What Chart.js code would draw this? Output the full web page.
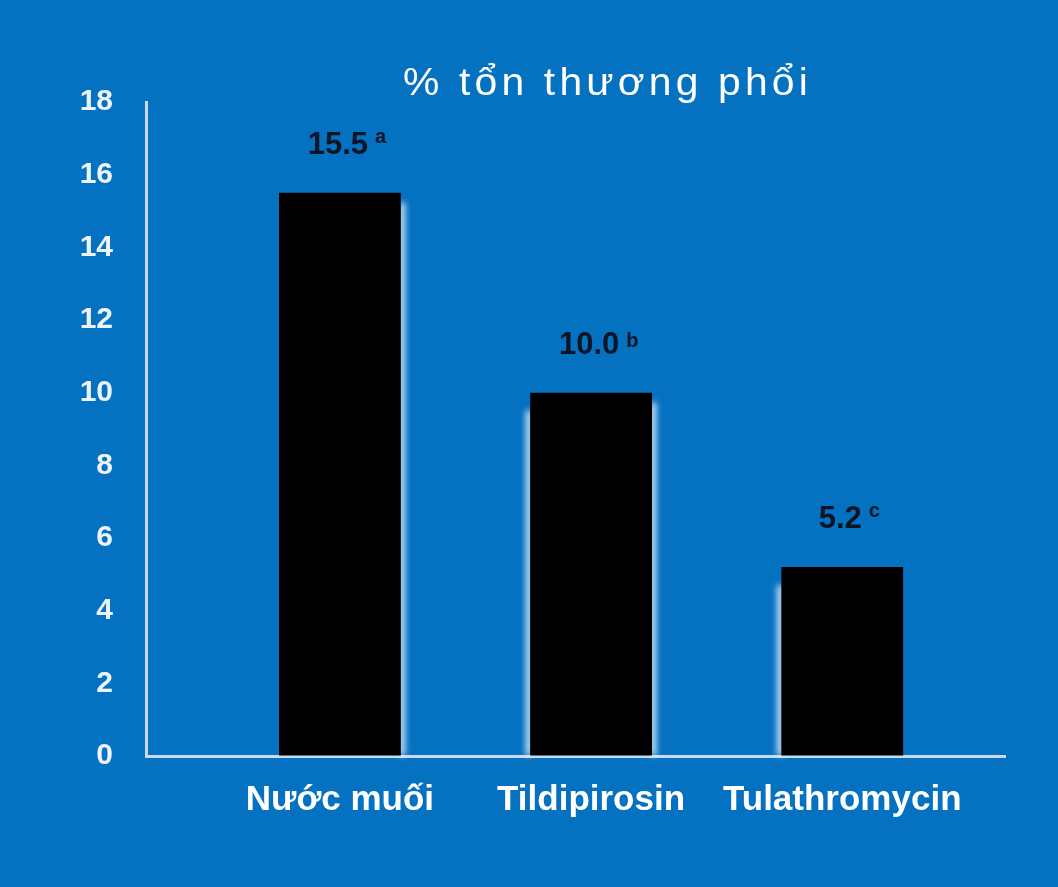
<!DOCTYPE html>
<html>
<head>
<meta charset="utf-8">
<script src="https://cdn.jsdelivr.net/npm/chart.js@4/dist/chart.umd.min.js"></script>
<style>
  html, body { margin: 0; padding: 0; background: #0571c1; }
  #wrap { position: relative; width: 1058px; height: 887px; }
  #title {
    position: absolute; top: 62px; white-space: nowrap;
    color: #ffffff; transform-origin: 0 0;
    font: 39px "Liberation Sans", Arial, sans-serif; line-height: 39px;
    letter-spacing: 4px;
  }
</style>
</head>
<body>
<div id="wrap">
  <div id="title">% tổn thương phổi</div>
  <canvas id="chart" width="1058" height="887"></canvas>
</div>
<script>
const categories = ['Nước muối', 'Tildipirosin', 'Tulathromycin'];
const values = [15.5, 10.0, 5.2];
const valueLabels = ['15.5', '10.0', '5.2'];
const letters = ['a', 'b', 'c'];
const yMin = 0;
const yMax = 18;
const yStep = 2;

const FONT = '"Liberation Sans", Arial, sans-serif';
const axisColor = '#c8dbee';

// title is a bit wider than the plain font, stretch it to the slide's width
const title = document.getElementById('title');
const tw = title.getBoundingClientRect().width;
const sx = 409 / tw;
title.style.left = (607.5 - 409 / 2) + 'px';
title.style.transform = 'scaleX(' + sx + ')';

// soft white halo on the bar edges, like the original slide
const glowSides = [['right'], ['left', 'right'], ['left']];
const glowPlugin = {
  id: 'glow',
  beforeDatasetsDraw(chart) {
    const ctx = chart.ctx;
    const meta = chart.getDatasetMeta(0);
    ctx.save();
    ctx.filter = 'blur(3px)';
    ctx.fillStyle = 'rgba(235,245,255,0.95)';
    meta.data.forEach((bar, i) => {
      const half = bar.width / 2;
      glowSides[i].forEach(side => {
        const top = bar.y + (side === 'left' ? 18 : 10);
        const x = side === 'right' ? bar.x + half - 2 : bar.x - half - 4;
        ctx.fillRect(x, top, 6, bar.base - top);
      });
    });
    ctx.restore();
  }
};

const labelPlugin = {
  id: 'valueLabels',
  afterDatasetsDraw(chart) {
    const ctx = chart.ctx;
    const meta = chart.getDatasetMeta(0);
    ctx.save();
    ctx.fillStyle = '#0b1526';
    ctx.textBaseline = 'alphabetic';
    ctx.textAlign = 'left';
    meta.data.forEach((bar, i) => {
      ctx.font = 'bold 31px ' + FONT;
      const m = ctx.measureText(valueLabels[i]);
      const x0 = bar.x - 2 - m.width / 2;
      const base = bar.y - 39;
      ctx.fillText(valueLabels[i], x0, base);
      const digitTop = base - m.actualBoundingBoxAscent;
      ctx.font = 'bold 20px ' + FONT;
      const s = ctx.measureText(letters[i]);
      ctx.fillText(letters[i], x0 + m.width + 7, digitTop + s.actualBoundingBoxAscent);
    });
    ctx.restore();
  }
};

new Chart(document.getElementById('chart'), {
  type: 'bar',
  data: {
    datasets: [{
      data: values.map((v, i) => ({ x: i, y: v })),
      backgroundColor: '#000000',
      borderWidth: 0,
      barPercentage: 0.485,
      categoryPercentage: 1
    }]
  },
  options: {
    responsive: false,
    animation: false,
    layout: { padding: { top: 102, right: 53, bottom: 0, left: 0 } },
    plugins: { legend: { display: false }, tooltip: { enabled: false } },
    scales: {
      x: {
        type: 'linear',
        offset: false,
        min: -0.772,
        max: 2.648,
        afterFit(scale) { scale.height = 131; },
        grid: { display: true, offset: false, drawOnChartArea: false, drawTicks: false },
        border: { display: true, color: axisColor, width: 3 },
        ticks: {
          stepSize: 1,
          includeBounds: false,
          autoSkip: false,
          maxRotation: 0,
          padding: 23,
          color: '#ffffff',
          font: { family: FONT, size: 35, weight: 'bold' },
          callback: v => (Number.isInteger(v) && categories[v]) ? categories[v] : ''
        }
      },
      y: {
        min: yMin,
        max: yMax,
        afterFit(scale) { scale.width = 146; },
        grid: { display: true, drawOnChartArea: false, drawTicks: false },
        border: { display: true, color: axisColor, width: 3 },
        ticks: {
          stepSize: yStep,
          padding: 33,
          color: '#eef4fb',
          font: { family: FONT, size: 30, weight: 'bold' }
        }
      }
    }
  },
  plugins: [glowPlugin, labelPlugin]
});
</script>
</body>
</html>
